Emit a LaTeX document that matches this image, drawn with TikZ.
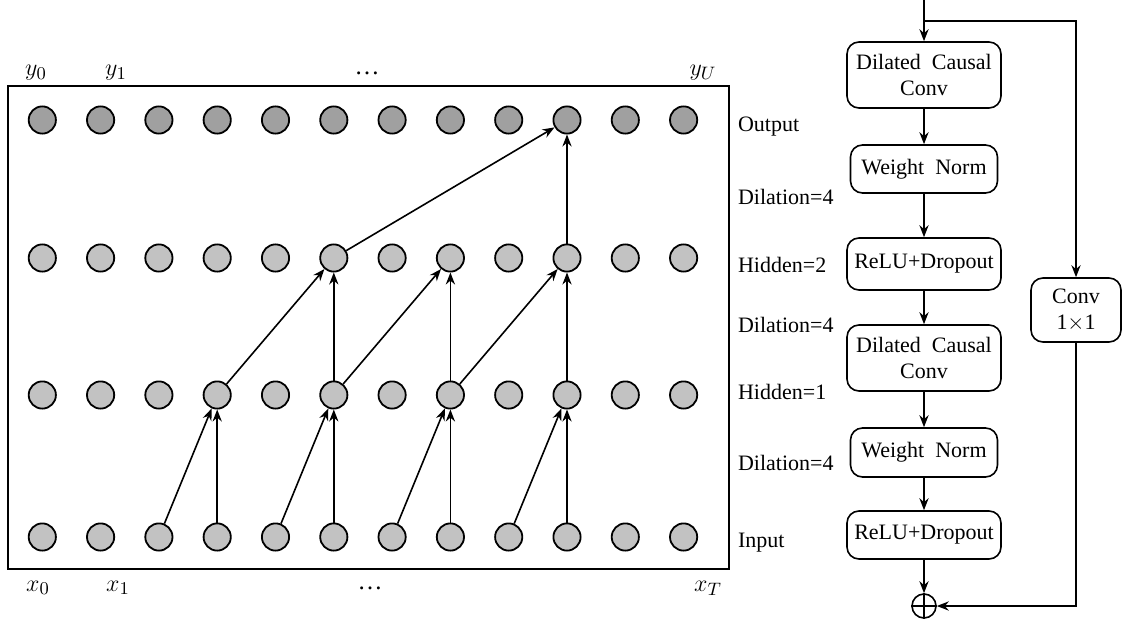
\documentclass[tikz,border=0pt]{standalone}
\usepackage{fontspec}
\setmainfont{Liberation Serif}
\usetikzlibrary{arrows.meta,positioning,calc}
\definecolor{darkdot}{HTML}{A0A0A0}
\definecolor{lightdot}{HTML}{C2C2C2}
\tikzset{
  unit/.style={circle,draw=black,line width=0.9pt,minimum size=13.6pt,inner sep=0pt,fill=lightdot},
  outunit/.style={unit,fill=darkdot},
  block/.style={draw,rounded corners=6pt,line width=0.8pt,align=center,inner sep=2pt},
  lab/.style={anchor=west},
  idx/.style={font=\fontsize{12.5}{14}\selectfont},
  flow/.style={-{Stealth[length=6pt,width=4.6pt]},line width=0.8pt},
  every node/.style={font=\fontsize{11}{13}\selectfont}
}
\begin{document}
\begin{tikzpicture}[x=0.5pt,y=-0.5pt]
\useasboundingbox (0,0) rectangle (1134,621);
% temporal network
\draw[line width=0.9pt] (8,86) rectangle (729,569);
\foreach \i in {0,...,11}{
  \node[outunit] (out\i) at ({42.3+58.3*\i},120) {};
  \node[unit] (hidB\i) at ({42.3+58.3*\i},258) {};
  \node[unit] (hidA\i) at ({42.3+58.3*\i},395) {};
  \node[unit] (inp\i) at ({42.3+58.3*\i},537) {};
}
\foreach \j in {3,5,7,9}{
  \pgfmathtruncatemacro\k{\j-1}
  \draw[flow] (inp\k) -- (hidA\j);
  \draw[flow] (inp\j) -- (hidA\j);
}
\foreach \j in {5,7,9}{
  \pgfmathtruncatemacro\k{\j-2}
  \draw[flow] (hidA\k) -- (hidB\j);
  \draw[flow] (hidA\j) -- (hidB\j);
}
\draw[flow] (hidB5) -- (out9);
\draw[flow] (hidB9) -- (out9);

\node[idx] (y0) at (36,73) {$y_0$};
\node[idx] (y1) at (116,73) {$y_1$};
\node[idx] (ydots) at (367,73) {\dots};
\node[idx] (yU) at (703,73) {$y_U$};
\node[idx] (x0) at (38,588) {$x_0$};
\node[idx] (x1) at (118,588) {$x_1$};
\node[idx] (xdots) at (370,588) {\dots};
\node[idx] (xT) at (708,588) {$x_T$};

\node[lab] (lout) at (731,127) {Output};
\node[lab] (ldilC) at (731,197) {Dilation=4};
\node[lab] (lhidB) at (731,265) {Hidden=2};
\node[lab] (ldilB) at (731,325) {Dilation=4};
\node[lab] (lhidA) at (731,392) {Hidden=1};
\node[lab] (ldilA) at (731,463) {Dilation=4};
\node[lab] (linp) at (731,543) {Input};

% residual block
\node[block,minimum width=77pt,minimum height=33pt] (dccA) at (924,75) {Dilated\ \ Causal\\Conv};
\node[block,minimum width=73.5pt,minimum height=24pt] (wnA) at (924,169) {Weight\ \ Norm};
\node[block,minimum width=77pt,minimum height=26pt] (rdA) at (924,264) {ReLU+Dropout};
\node[block,minimum width=77pt,minimum height=33pt] (dccB) at (924,358) {Dilated\ \ Causal\\Conv};
\node[block,minimum width=73.5pt,minimum height=24.5pt] (wnB) at (924,452.5) {Weight\ \ Norm};
\node[block,minimum width=77pt,minimum height=24pt] (rdB) at (924,535) {ReLU+Dropout};
\node[block,minimum width=45pt,minimum height=32pt] (conv) at (1076,310) {Conv\\1$\times$1};
\node[circle,draw,line width=0.8pt,minimum size=12pt,inner sep=0pt] (plus) at (924,606) {};
\draw[line width=0.8pt] (plus.north) -- (plus.south) (plus.west) -- (plus.east);
\coordinate (top) at (924,0);
\coordinate (split) at (924,21);

\draw[flow] (top) -- (dccA);
\draw[flow] (dccA) -- (wnA);
\draw[flow] (wnA) -- (rdA);
\draw[flow] (rdA) -- (dccB);
\draw[flow] (dccB) -- (wnB);
\draw[flow] (wnB) -- (rdB);
\draw[flow] (rdB) -- (plus);
\draw[flow] (split) -| (conv);
\draw[flow] (conv) |- (plus);
\end{tikzpicture}
\end{document}
